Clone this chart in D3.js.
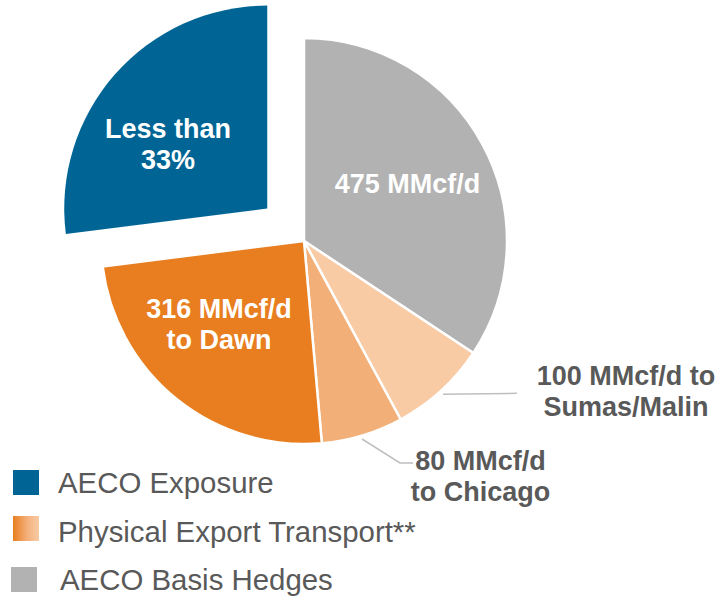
<!DOCTYPE html>
<html><head><meta charset="utf-8">
<script src="https://cdn.jsdelivr.net/npm/d3@7"></script>
<style>html,body{margin:0;padding:0;background:#fff;}svg{display:block;}text{font-family:"Liberation Sans",Arial,Helvetica,sans-serif;}</style>
</head><body>
<svg id="c" width="716" height="599"></svg>
<script>
// Data (clockwise from 12 o'clock), shares (%)
const categories = ["AECO Basis Hedges", "Sumas/Malin", "Chicago", "Dawn", "AECO Exposure"];
const shares = [34.3, 7.8, 6.5, 24.4, 27.0];
const sliceLabels = [["475 MMcf/d"], ["100 MMcf/d to", "Sumas/Malin"], ["80 MMcf/d", "to Chicago"], ["316 MMcf/d", "to Dawn"], ["Less than", "33%"]];
const legendLabels = ["AECO Exposure", "Physical Export Transport**", "AECO Basis Hedges"];

const colors = ["#B2B2B2", "#F8CBA5", "#F2AF77", "#E87E1F", "#006595"];
const svg = d3.select("#c");
const cx = 304, cy = 241, R = 203;

const defs = svg.append("defs");
const grad = defs.append("linearGradient").attr("id", "og").attr("x1", "0").attr("x2", "1").attr("y1", "0").attr("y2", "0");
grad.append("stop").attr("offset", "0").attr("stop-color", "#E87E1F");
grad.append("stop").attr("offset", "0.55").attr("stop-color", "#F4B07C");
grad.append("stop").attr("offset", "1").attr("stop-color", "#F8CBA5");

const data = categories.map((c, i) => ({cat: c, value: shares[i], i}));
const pie = d3.pie().value(d => d.value).sort(null);
const arcs = pie(data);
const arc = d3.arc().innerRadius(0).outerRadius(R);
const explode = 49;

const g = svg.append("g").attr("transform", `translate(${cx},${cy})`);
g.selectAll("path").data(arcs).join("path")
  .attr("d", arc)
  .attr("fill", d => colors[d.data.i])
  .attr("stroke", "#fff")
  .attr("stroke-width", d => d.data.i === 4 ? 0 : 2.5)
  .attr("stroke-linejoin", "round")
  .attr("transform", d => {
    if (d.data.i !== 4) return null;
    const a = (d.startAngle + d.endAngle) / 2;
    return `translate(${explode * Math.sin(a)},${-explode * Math.cos(a)})`;
  });

// Leader lines
svg.append("path").attr("d", "M443,394.3L517,393.3").attr("stroke", "#BFBFBF").attr("stroke-width", 1.5).attr("fill", "none");
svg.append("path").attr("d", "M362,439L400,463L413,463").attr("stroke", "#BFBFBF").attr("stroke-width", 1.5).attr("fill", "none");

// Slice labels
const labelPos = [
  {x: 407.5, y: 193, fill: "#fff"},
  {x: 626, y: 385, fill: "#595959"},
  {x: 480.5, y: 470, fill: "#595959"},
  {x: 219, y: 318, fill: "#fff"},
  {x: 168, y: 138, fill: "#fff"}
];
sliceLabels.forEach((lines, i) => {
  const t = svg.append("text")
    .attr("text-anchor", "middle")
    .attr("font-weight", "bold")
    .attr("font-size", 27)
    .attr("fill", labelPos[i].fill);
  lines.forEach((l, k) => t.append("tspan").attr("x", labelPos[i].x).attr("y", labelPos[i].y + k * 31).text(l));
});

// Legend
const legFill = ["#006595", "url(#og)", "#B2B2B2"];
const legBox = [{x: 13, y: 470}, {x: 13, y: 516}, {x: 11, y: 567}];
const legText = [{x: 58, y: 493}, {x: 58, y: 542}, {x: 60, y: 590}];
legendLabels.forEach((l, i) => {
  svg.append("rect").attr("x", legBox[i].x).attr("y", legBox[i].y).attr("width", 26).attr("height", 25).attr("fill", legFill[i]);
  svg.append("text").attr("x", legText[i].x).attr("y", legText[i].y)
    .attr("font-size", 29.4).attr("fill", "#595959").text(l);
});
</script>
</body></html>
